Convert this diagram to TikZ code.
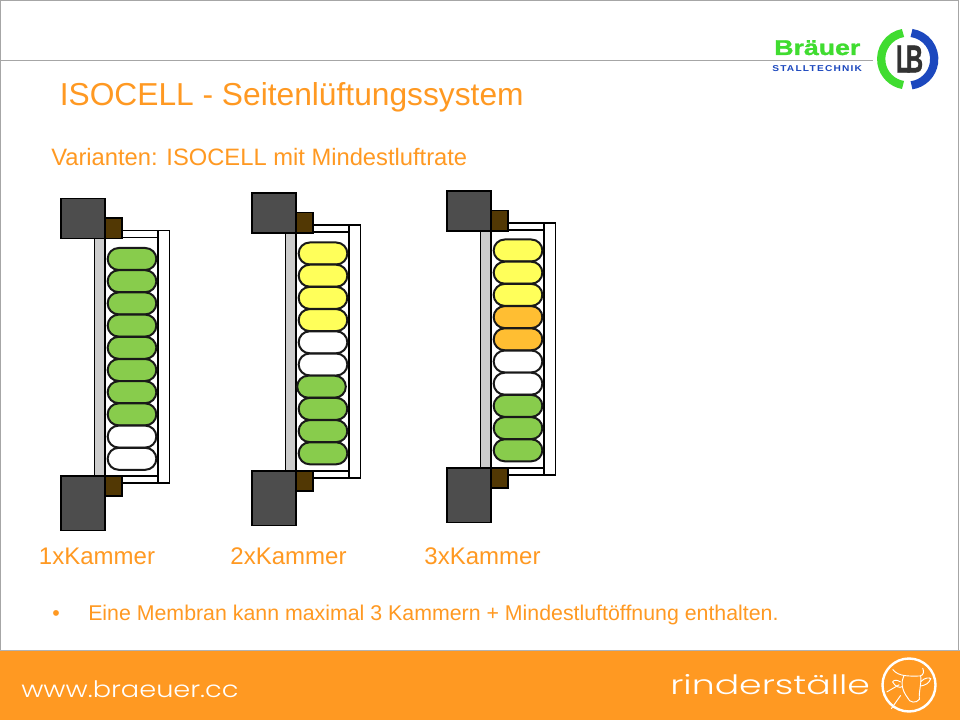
\documentclass[tikz,border=0pt]{standalone}
\usepackage{fontspec}
\setmainfont{Liberation Sans}
\newfontfamily\wwwfont{Poppins Light}
\newfontfamily\logofont[LetterSpace=12]{Liberation Sans Bold}
\newfontfamily\markfont[FakeBold=1.2]{Liberation Sans Bold}
\usetikzlibrary{shapes.misc}
\definecolor{braeuorange}{RGB}{255,153,34}
\definecolor{braeugreen}{RGB}{64,220,48}
\definecolor{braeublue}{RGB}{28,72,190}
\definecolor{pillgreen}{RGB}{136,204,76}
\definecolor{pillyellow}{RGB}{255,255,90}
\definecolor{pillamber}{RGB}{255,190,50}
\definecolor{blockgrey}{RGB}{77,77,77}
\definecolor{strutbrown}{RGB}{82,56,4}
\definecolor{stripgrey}{RGB}{204,204,204}
\tikzset{
  pill/.style={rounded rectangle, draw=black!90, line width=1.5pt, inner sep=0pt,
    minimum width=36.5pt, minimum height=16.5pt},
  part/.style={draw=black, line width=0.8pt},
  heading/.style={text=braeuorange, anchor=base west, inner sep=0pt},
  chamber/.style={text=braeuorange, anchor=base, inner sep=0pt, font=\fontsize{18}{20}\selectfont},
  footertext/.style={text=white, inner sep=0pt, anchor=base west}
}
% one membrane: #1 name, #2 left, #3 top, #4 height, #5 first pill, #6 colours
\newcommand{\membran}[6]{
  \begin{scope}[shift={(#2,#3)}]
    \draw[part, fill=white] (97,32) rectangle (108.5,#4+7);
    \draw[part, fill=white] (44,32) rectangle (97,#4+7);
    \draw[part, fill=white] (33.5,39) rectangle (97,#4);
    \draw[part, fill=stripgrey] (33.5,39) rectangle (44,#4);
    \draw[part, fill=blockgrey] (0,0) rectangle (44,40);
    \draw[part, fill=blockgrey] (0,#4) rectangle (44,#4+54.5);
    \draw[part, fill=strutbrown] (44,19.5) rectangle (61,40);
    \draw[part, fill=strutbrown] (44,#4) rectangle (61,#4+20);
    \foreach \col/\off [count=\i from 0] in {#6}
      \node[pill, fill=\col] (#1-\i) at (71+\off,#5+\i*22.2) {};
  \end{scope}
}
\begin{document}
\begin{tikzpicture}[x=0.75pt, y=-0.75pt]
  \useasboundingbox (0,0) rectangle (960,720);

  % Rahmen und Kopflinie
  \fill[white] (0,0) rectangle (960,720);
  \draw[gray!70, line width=0.8pt] (0.5,650) -- (0.5,0.5) -- (958.5,0.5) -- (958.5,650);
  \draw[gray!70, line width=0.8pt] (0,60.5) -- (873,60.5);

  % Fussleiste
  \fill[braeuorange] (0,651) rectangle (960,720);
  \draw[gray!60, line width=1pt] (0,650.5) -- (960,650.5);
  \node[footertext, xscale=1.2, font=\wwwfont\fontsize{17}{20}\selectfont] (www) at (21,697) {www.braeuer.cc};
  \node[footertext, xscale=1.36, font=\wwwfont\fontsize{20}{22}\selectfont] (stall) at (670,694) {rinderställe};

  % Rinderkopf
  \draw[white, line width=1.8pt] (909,685) circle (26.5);
  \begin{scope}[shift={(650,640)}, x=0.25pt, y=-0.25pt, white, line width=0.7pt]
    \draw (728,88) .. controls (745,112) and (785,108) .. (810,108) .. controls (822,105) and (822,95) .. (818,84);
    \draw (762,106) .. controls (752,125) and (755,150) .. (772,172) .. controls (778,190) and (800,190) .. (808,178) .. controls (806,155) and (815,130) .. (812,108);
    \draw (752,126) .. controls (740,118) and (730,120) .. (728,126) .. controls (735,140) and (750,145) .. (756,140);
    \draw (812,125) .. controls (825,112) and (838,112) .. (842,116) .. controls (838,130) and (825,136) .. (812,138);
    \draw (710,156) -- (748,134);
    \draw (724,206) -- (752,166);
  \end{scope}

  % Logo
  \draw[braeugreen, line width=6.2pt] (903,33) arc (-100:-260:26.4);
  \draw[braeublue, line width=6.2pt] (911.5,33) arc (-82:82:26.4);
  \node[inner sep=0pt, text=black!80, font=\markfont\fontsize{29}{30}\selectfont, xscale=0.62] (lb) at (909.5,59) {L\kern-0.2em B};
  \node[inner sep=0pt, anchor=base west, text=braeugreen, xscale=1.25, font=\markfont\fontsize{16}{18}\selectfont] (bmark) at (774,55) {Bräuer};
  \node[inner sep=0pt, anchor=base west, text=braeublue, xscale=1.19, font=\logofont\fontsize{6.4}{8}\selectfont] (smark) at (772,71.5) {STALLTECHNIK};

  % Texte
  \node[heading, font=\fontsize{23.8}{28}\selectfont] (title) at (59.5,106) {ISOCELL - Seitenlüftungssystem};
  \node[heading, font=\fontsize{17.8}{20}\selectfont] (variants) at (51,166) {Varianten: ISOCELL mit Mindestluftrate};

  % Membranen
  \membran{ma}{61}{198.5}{277.5}{60.5}{
    pillgreen/0,pillgreen/0,pillgreen/0,pillgreen/0,pillgreen/0,
    pillgreen/0,pillgreen/0,pillgreen/0,white/0,white/0}
  \membran{mb}{252}{193}{278}{60.5}{
    pillyellow/0,pillyellow/0,pillyellow/0,pillyellow/0,white/0,
    white/0,pillgreen/-1.5,pillgreen/0,pillgreen/0,pillgreen/0}
  \membran{mc}{447}{191}{277}{59.5}{
    pillyellow/0,pillyellow/0,pillyellow/0,pillamber/0,pillamber/0,
    white/0,white/0,pillgreen/0,pillgreen/0,pillgreen/0}

  \node[chamber] (lab1) at (97,564) {1xKammer};
  \node[chamber] (lab2) at (288.5,564) {2xKammer};
  \node[chamber] (lab3) at (482.5,564) {3xKammer};

  \node[heading, font=\fontsize{16}{18}\selectfont] (dot) at (52,620) {•};
  \node[heading, font=\fontsize{16}{18}\selectfont] (note) at (88,620) {Eine Membran kann maximal 3 Kammern + Mindestluftöffnung enthalten.};
\end{tikzpicture}
\end{document}
